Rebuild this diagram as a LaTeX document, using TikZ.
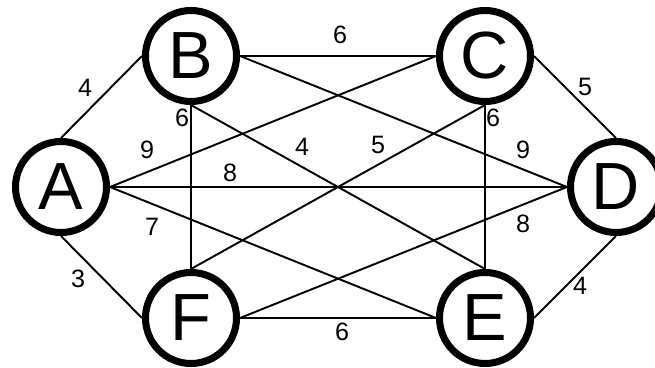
\documentclass[tikz,border=0pt]{standalone}
\usepackage{fontspec}
\setmainfont{Liberation Sans}
\usepackage{tikz}
\usetikzlibrary{positioning}

\begin{document}
\begin{tikzpicture}[
    vertex/.style={circle, draw, line width=4pt, minimum size=1.82cm, inner sep=0pt, fill=white, font=\fontsize{38}{40}\selectfont},
    edge/.style={line width=1.1pt},
    weight/.style={font=\fontsize{14.3}{16}\selectfont}
  ]
  \useasboundingbox (0,0) rectangle (13.1,7.36);
  % vertices
  \node[vertex] (vA) at (1.22,3.62) {A};
  \node[vertex] (vB) at (3.82,6.24) {B};
  \node[vertex] (vC) at (9.70,6.24) {C};
  \node[vertex] (vD) at (12.32,3.62) {D};
  \node[vertex] (vE) at (9.70,1.00) {E};
  \node[vertex] (vF) at (3.82,1.00) {F};
  % edges
  \draw[edge] (vA.north) -- (vB.west);
  \draw[edge] (vA.east) -- (vC.west);
  \draw[edge] (vA.east) -- (vD.west);
  \draw[edge] (vA.east) -- (vE.west);
  \draw[edge] (vA.south) -- (vF.west);
  \draw[edge] (vB.east) -- (vC.west);
  \draw[edge] (vB.east) -- (vD.west);
  \draw[edge] (vB.south) -- (vE.north);
  \draw[edge] (vB.south) -- (vF.north);
  \draw[edge] (vC.east) -- (vD.north);
  \draw[edge] (vC.south) -- (vE.north);
  \draw[edge] (vC.south) -- (vF.north);
  \draw[edge] (vD.south) -- (vE.east);
  \draw[edge] (vD.west) -- (vF.east);
  \draw[edge] (vE.west) -- (vF.east);
  % weights
  \node[weight] (wab) at (1.70,5.60) {4};
  \node[weight] (waf) at (1.56,1.78) {3};
  \node[weight] (wac) at (2.94,4.36) {9};
  \node[weight] (wad) at (4.60,3.90) {8};
  \node[weight] (wae) at (3.04,2.82) {7};
  \node[weight] (wbf) at (3.64,5.00) {6};
  \node[weight] (wbc) at (6.80,6.66) {6};
  \node[weight] (wbe) at (6.04,4.42) {4};
  \node[weight] (wcf) at (7.56,4.46) {5};
  \node[weight] (wce) at (9.86,5.00) {6};
  \node[weight] (wbd) at (10.46,4.36) {9};
  \node[weight] (wcd) at (11.70,5.62) {5};
  \node[weight] (wdf) at (10.46,2.88) {8};
  \node[weight] (wde) at (11.60,1.64) {4};
  \node[weight] (wfe) at (6.84,0.72) {6};
\end{tikzpicture}
\end{document}
